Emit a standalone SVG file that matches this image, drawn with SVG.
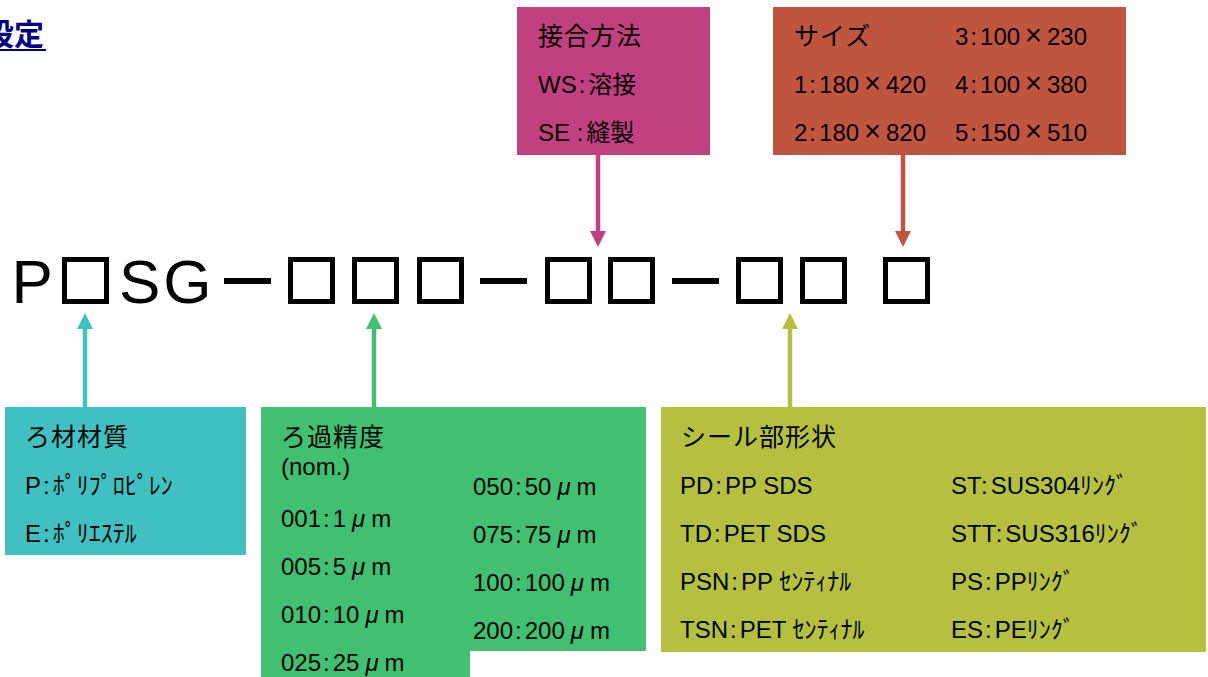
<svg xmlns="http://www.w3.org/2000/svg" width="1208" height="677" viewBox="0 0 1208 677">
<defs>
<style>
.t{font-family:"Liberation Sans","Noto Sans CJK JP",sans-serif;font-size:24px;fill:#000}
.h{font-family:"Noto Sans CJK JP",sans-serif;font-size:25px;letter-spacing:1px;fill:#000}
.code{font-family:"Liberation Sans",sans-serif;font-size:62px;fill:#000}
.sq{fill:none;stroke:#000;stroke-width:5}
.mu{font-style:italic}
.x{font-size:29px}
.conn line{stroke-width:4.5}
</style>
<marker id="aM" viewBox="0 0 16 16" refX="0" refY="8" markerWidth="16" markerHeight="16" markerUnits="userSpaceOnUse" orient="auto"><path d="M0,0 L16,8 L0,16 z" fill="#C04080"/></marker>
<marker id="aR" viewBox="0 0 16 16" refX="0" refY="8" markerWidth="16" markerHeight="16" markerUnits="userSpaceOnUse" orient="auto"><path d="M0,0 L16,8 L0,16 z" fill="#C0553F"/></marker>
<marker id="aC" viewBox="0 0 16 16" refX="0" refY="8" markerWidth="16" markerHeight="16" markerUnits="userSpaceOnUse" orient="auto"><path d="M0,0 L16,8 L0,16 z" fill="#40C0C0"/></marker>
<marker id="aG" viewBox="0 0 16 16" refX="0" refY="8" markerWidth="16" markerHeight="16" markerUnits="userSpaceOnUse" orient="auto"><path d="M0,0 L16,8 L0,16 z" fill="#40C070"/></marker>
<marker id="aO" viewBox="0 0 16 16" refX="0" refY="8" markerWidth="16" markerHeight="16" markerUnits="userSpaceOnUse" orient="auto"><path d="M0,0 L16,8 L0,16 z" fill="#B5C040"/></marker>
</defs>
<rect width="1208" height="677" fill="#fff"/>

<g id="title">
<text x="-16" y="45" font-family="'Noto Sans CJK JP',sans-serif" font-size="30" font-weight="bold" fill="#000080">設定</text>
<line x1="0" y1="50" x2="46" y2="50" stroke="#000080" stroke-width="2"/>
</g>

<g id="code">
<text class="code" x="11.5" y="303">P</text>
<text class="code" x="119" y="303" letter-spacing="3">SG</text>
<rect class="sq" x="64.5" y="259.5" width="42" height="42"/>
<rect x="224" y="278" width="47" height="6"/>
<rect class="sq" x="290.5" y="259.5" width="42" height="42"/>
<rect class="sq" x="354.5" y="259.5" width="42" height="42"/>
<rect class="sq" x="419.5" y="259.5" width="42" height="42"/>
<rect x="480" y="278" width="47" height="6"/>
<rect class="sq" x="547.5" y="259.5" width="42" height="42"/>
<rect class="sq" x="610.5" y="259.5" width="42" height="42"/>
<rect x="672" y="278" width="47" height="6"/>
<rect class="sq" x="738.5" y="259.5" width="42" height="42"/>
<rect class="sq" x="802.5" y="259.5" width="42" height="42"/>
<rect class="sq" x="885.5" y="259.5" width="42" height="42"/>
</g>

<g id="joining">
<rect x="517" y="7" width="193" height="148" fill="#C04080"/>
<text class="h" x="538" y="45">接合方法</text>
<text class="t" x="538" y="93">WS<tspan dx="2">:</tspan><tspan dx="3">溶接</tspan></text>
<text class="t" x="538" y="141">SE :<tspan dx="3">縫製</tspan></text>
</g>

<g id="size">
<rect x="773" y="7" width="353" height="148" fill="#C0553F"/>
<text class="h" x="794" y="45">サイズ</text>
<text class="t" x="955" y="45">3<tspan dx="2">:</tspan><tspan dx="3">100</tspan><tspan class="x" dx="5">×</tspan><tspan dx="5">230</tspan></text>
<text class="t" x="794" y="93">1<tspan dx="2">:</tspan><tspan dx="3">180</tspan><tspan class="x" dx="5">×</tspan><tspan dx="5">420</tspan></text>
<text class="t" x="955" y="93">4<tspan dx="2">:</tspan><tspan dx="3">100</tspan><tspan class="x" dx="5">×</tspan><tspan dx="5">380</tspan></text>
<text class="t" x="794" y="141">2<tspan dx="2">:</tspan><tspan dx="3">180</tspan><tspan class="x" dx="5">×</tspan><tspan dx="5">820</tspan></text>
<text class="t" x="955" y="141">5<tspan dx="2">:</tspan><tspan dx="3">150</tspan><tspan class="x" dx="5">×</tspan><tspan dx="5">510</tspan></text>
</g>

<g id="material">
<rect x="5" y="407" width="241" height="148" fill="#40C0C0"/>
<text class="h" x="25" y="446">ろ材材質</text>
<text class="t" x="25" y="494">P<tspan dx="2">:</tspan><tspan dx="3">ﾎﾟﾘﾌﾟﾛﾋﾟﾚﾝ</tspan></text>
<text class="t" x="25" y="542">E<tspan dx="2">:</tspan><tspan dx="3">ﾎﾟﾘｴｽﾃﾙ</tspan></text>
</g>

<g id="precision">
<polygon points="261,407 646,407 646,651 470,651 470,677 261,677" fill="#40C070"/>
<text class="h" x="281" y="446">ろ過精度</text>
<text class="t" x="281" y="475" font-size="22">(nom.)</text>
<text class="t" x="281" y="527">001<tspan dx="2">:</tspan><tspan dx="3">1</tspan><tspan class="mu" dx="6">μ</tspan><tspan dx="6">m</tspan></text>
<text class="t" x="281" y="575">005<tspan dx="2">:</tspan><tspan dx="3">5</tspan><tspan class="mu" dx="6">μ</tspan><tspan dx="6">m</tspan></text>
<text class="t" x="281" y="623">010<tspan dx="2">:</tspan><tspan dx="3">10</tspan><tspan class="mu" dx="6">μ</tspan><tspan dx="6">m</tspan></text>
<text class="t" x="281" y="671">025<tspan dx="2">:</tspan><tspan dx="3">25</tspan><tspan class="mu" dx="6">μ</tspan><tspan dx="6">m</tspan></text>
<text class="t" x="473" y="495">050<tspan dx="2">:</tspan><tspan dx="3">50</tspan><tspan class="mu" dx="6">μ</tspan><tspan dx="6">m</tspan></text>
<text class="t" x="473" y="543">075<tspan dx="2">:</tspan><tspan dx="3">75</tspan><tspan class="mu" dx="6">μ</tspan><tspan dx="6">m</tspan></text>
<text class="t" x="473" y="591">100<tspan dx="2">:</tspan><tspan dx="3">100</tspan><tspan class="mu" dx="6">μ</tspan><tspan dx="6">m</tspan></text>
<text class="t" x="473" y="639">200<tspan dx="2">:</tspan><tspan dx="3">200</tspan><tspan class="mu" dx="6">μ</tspan><tspan dx="6">m</tspan></text>
</g>

<g id="seal">
<rect x="661" y="407" width="545" height="245" fill="#B5C040"/>
<text class="h" x="681" y="446">シール部形状</text>
<text class="t" x="680" y="494">PD<tspan dx="2">:</tspan><tspan dx="3">PP SDS</tspan></text>
<text class="t" x="680" y="542">TD<tspan dx="2">:</tspan><tspan dx="3">PET SDS</tspan></text>
<text class="t" x="680" y="590">PSN<tspan dx="2">:</tspan><tspan dx="3">PP ｾﾝﾃｨﾅﾙ</tspan></text>
<text class="t" x="680" y="638">TSN<tspan dx="2">:</tspan><tspan dx="3">PET ｾﾝﾃｨﾅﾙ</tspan></text>
<text class="t" x="951" y="494">ST<tspan dx="2">:</tspan><tspan dx="3">SUS304ﾘﾝｸﾞ</tspan></text>
<text class="t" x="951" y="542">STT<tspan dx="2">:</tspan><tspan dx="3">SUS316ﾘﾝｸﾞ</tspan></text>
<text class="t" x="951" y="590">PS<tspan dx="2">:</tspan><tspan dx="3">PPﾘﾝｸﾞ</tspan></text>
<text class="t" x="951" y="638">ES<tspan dx="2">:</tspan><tspan dx="3">PEﾘﾝｸﾞ</tspan></text>
</g>

<g id="connectors" class="conn">
<line x1="598" y1="155" x2="598" y2="231" stroke="#C04080" marker-end="url(#aM)"/>
<line x1="903" y1="155" x2="903" y2="231" stroke="#C0553F" marker-end="url(#aR)"/>
<line x1="85" y1="407" x2="85" y2="329" stroke="#40C0C0" marker-end="url(#aC)"/>
<line x1="374" y1="407" x2="374" y2="329" stroke="#40C070" marker-end="url(#aG)"/>
<line x1="790" y1="407" x2="790" y2="329" stroke="#B5C040" marker-end="url(#aO)"/>
</g>
</svg>
